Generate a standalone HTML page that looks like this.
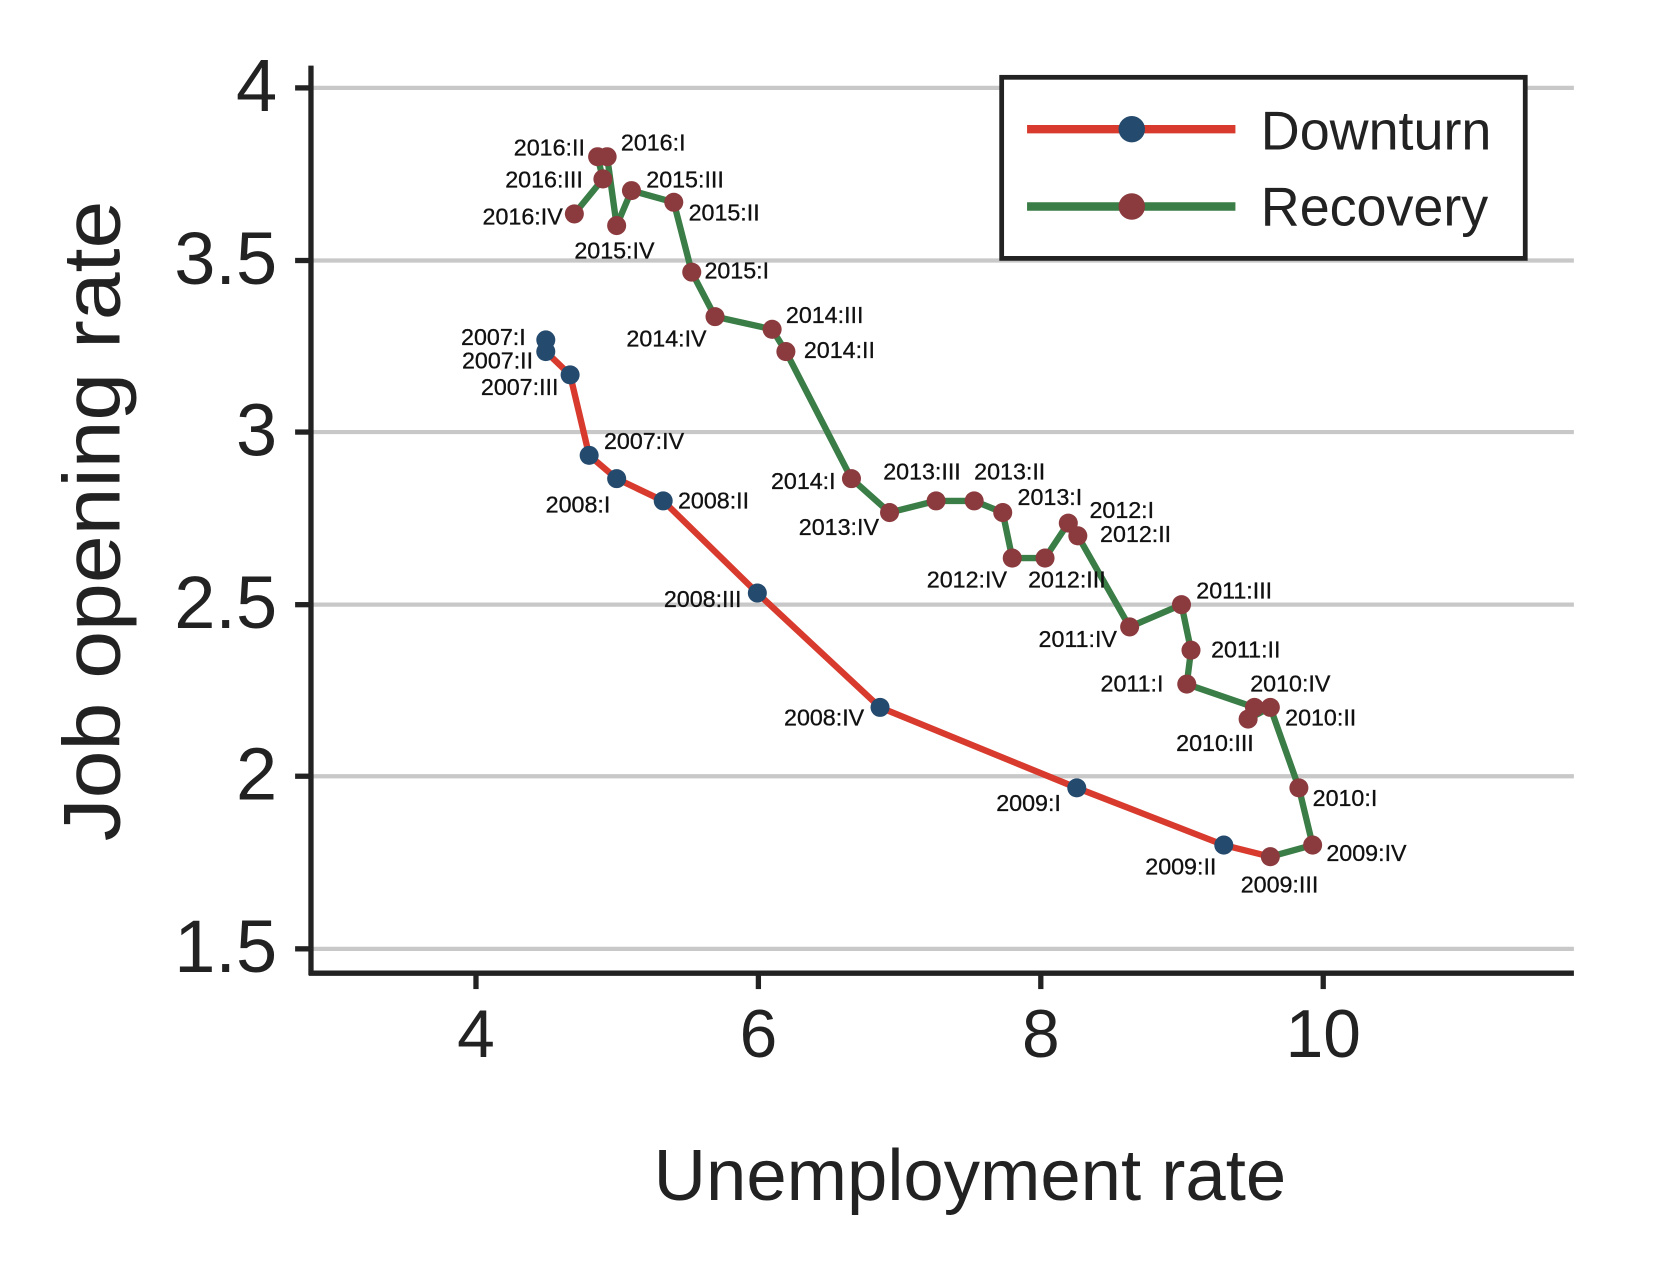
<!DOCTYPE html>
<html><head><meta charset="utf-8"><style>html,body{margin:0;padding:0;background:#fff}svg{display:block}</style></head>
<body>
<svg width="1660" height="1266" viewBox="0 0 1569.4 1195.5" preserveAspectRatio="none" xmlns="http://www.w3.org/2000/svg" font-family="Liberation Sans, Arial, sans-serif">
<rect width="1569.4" height="1195.5" fill="#fff"/>
<g stroke="#c8c8c8" stroke-width="4">
<line x1="294" y1="83" x2="1488" y2="83"/><line x1="294" y1="246" x2="1488" y2="246"/><line x1="294" y1="408" x2="1488" y2="408"/><line x1="294" y1="571" x2="1488" y2="571"/><line x1="294" y1="733" x2="1488" y2="733"/><line x1="294" y1="896" x2="1488" y2="896"/>
</g>
<g stroke="#222" stroke-width="5">
<line x1="294" y1="62" x2="294" y2="921"/><line x1="292" y1="919" x2="1488" y2="919"/>
<line x1="279" y1="83" x2="294" y2="83"/><line x1="279" y1="246" x2="294" y2="246"/><line x1="279" y1="408" x2="294" y2="408"/><line x1="279" y1="571" x2="294" y2="571"/><line x1="279" y1="733" x2="294" y2="733"/><line x1="279" y1="896" x2="294" y2="896"/>
<line x1="450" y1="919" x2="450" y2="934"/><line x1="717" y1="919" x2="717" y2="934"/><line x1="984" y1="919" x2="984" y2="934"/><line x1="1251" y1="919" x2="1251" y2="934"/>
</g>
<g fill="#222" font-size="70" text-anchor="end">
<text x="262" y="105">4</text><text x="262" y="268">3.5</text><text x="262" y="430">3</text><text x="262" y="593">2.5</text><text x="262" y="755">2</text><text x="262" y="918">1.5</text>
</g>
<g fill="#222" font-size="64" text-anchor="middle">
<text x="450" y="998">4</text><text x="717" y="998">6</text><text x="984" y="998">8</text><text x="1251" y="998">10</text>
</g>
<text x="917" y="1133" font-size="68" fill="#222" text-anchor="middle" textLength="598" lengthAdjust="spacingAndGlyphs">Unemployment rate</text>
<text transform="translate(113,492) rotate(-90)" font-size="76" fill="#222" text-anchor="middle" textLength="605" lengthAdjust="spacingAndGlyphs">Job opening rate</text>

<polyline fill="none" stroke="#d83b2e" stroke-width="6" stroke-linejoin="round" points="516,321 516,332 539,354 557,430 583,452 627,473 716,560 832,668 1018,744 1157,798 1201,809"/>
<polyline fill="none" stroke="#3a7d46" stroke-width="6" stroke-linejoin="round" points="1201,809 1241,798 1228,744 1201,668 1180,679 1186,668 1122,646 1126,614 1117,571 1068,592 1019,506 1010,494 988,527 957,527 948,484 921,473 885,473 841,484 805,452 743,332 730,311 676,299 654,257 637,191 597,180 583,213 574,148 565,148 570,169 543,202"/>
<g fill="#244a6e">
<circle cx="516" cy="321" r="9"/><circle cx="516" cy="332" r="9"/><circle cx="539" cy="354" r="9"/><circle cx="557" cy="430" r="9"/><circle cx="583" cy="452" r="9"/><circle cx="627" cy="473" r="9"/><circle cx="716" cy="560" r="9"/><circle cx="832" cy="668" r="9"/><circle cx="1018" cy="744" r="9"/><circle cx="1157" cy="798" r="9"/>
</g>
<g fill="#8b3a3e">
<circle cx="1201" cy="809" r="9"/><circle cx="1241" cy="798" r="9"/><circle cx="1228" cy="744" r="9"/><circle cx="1201" cy="668" r="9"/><circle cx="1180" cy="679" r="9"/><circle cx="1186" cy="668" r="9"/><circle cx="1122" cy="646" r="9"/><circle cx="1126" cy="614" r="9"/><circle cx="1117" cy="571" r="9"/><circle cx="1068" cy="592" r="9"/><circle cx="1019" cy="506" r="9"/><circle cx="1010" cy="494" r="9"/><circle cx="988" cy="527" r="9"/><circle cx="957" cy="527" r="9"/><circle cx="948" cy="484" r="9"/><circle cx="921" cy="473" r="9"/><circle cx="885" cy="473" r="9"/><circle cx="841" cy="484" r="9"/><circle cx="805" cy="452" r="9"/><circle cx="743" cy="332" r="9"/><circle cx="730" cy="311" r="9"/><circle cx="676" cy="299" r="9"/><circle cx="654" cy="257" r="9"/><circle cx="637" cy="191" r="9"/><circle cx="597" cy="180" r="9"/><circle cx="583" cy="213" r="9"/><circle cx="574" cy="148" r="9"/><circle cx="565" cy="148" r="9"/><circle cx="570" cy="169" r="9"/><circle cx="543" cy="202" r="9"/>
</g>
<g fill="#111" font-size="22" stroke="#111" stroke-width="0.3">
<g text-anchor="end">
<text x="553" y="147">2016:II</text><text x="551" y="177">2016:III</text><text x="532" y="212">2016:IV</text><text x="668" y="327">2014:IV</text>
<text x="497" y="326">2007:I</text><text x="504" y="348">2007:II</text><text x="528" y="373">2007:III</text><text x="577" y="484">2008:I</text>
<text x="701" y="573">2008:III</text><text x="817" y="685">2008:IV</text><text x="790" y="462">2014:I</text><text x="831" y="505">2013:IV</text>
<text x="952" y="555">2012:IV</text><text x="1056" y="611">2011:IV</text><text x="1100" y="653">2011:I</text><text x="1003" y="766">2009:I</text><text x="1150" y="826">2009:II</text>
</g>
<text x="587" y="142">2016:I</text><text x="611" y="177">2015:III</text><text x="651" y="208">2015:II</text><text x="543" y="244">2015:IV</text>
<text x="666" y="263">2015:I</text><text x="743" y="305">2014:III</text><text x="760" y="338">2014:II</text><text x="571" y="424">2007:IV</text>
<text x="641" y="480">2008:II</text><text x="835" y="453">2013:III</text><text x="921" y="453">2013:II</text><text x="962" y="477">2013:I</text>
<text x="1030" y="489">2012:I</text><text x="1040" y="512">2012:II</text><text x="972" y="555">2012:III</text><text x="1131" y="565">2011:III</text>
<text x="1145" y="621">2011:II</text><text x="1182" y="653">2010:IV</text><text x="1215" y="685">2010:II</text><text x="1112" y="709">2010:III</text>
<text x="1241" y="761">2010:I</text><text x="1254" y="813">2009:IV</text><text x="1173" y="843">2009:III</text>
</g>

<rect x="947" y="73" width="495" height="171" fill="#fff" stroke="#222" stroke-width="4.5"/>
<line x1="971" y1="122" x2="1168" y2="122" stroke="#d83b2e" stroke-width="8"/>
<circle cx="1070" cy="122" r="12.5" fill="#244a6e"/>
<line x1="971" y1="195" x2="1168" y2="195" stroke="#3a7d46" stroke-width="8"/>
<circle cx="1070" cy="195" r="12.5" fill="#8b3a3e"/>
<text x="1192" y="141" font-size="52" fill="#222" textLength="218" lengthAdjust="spacingAndGlyphs">Downturn</text>
<text x="1192" y="213" font-size="52" fill="#222" textLength="215" lengthAdjust="spacingAndGlyphs">Recovery</text>
</svg>
</body></html>
